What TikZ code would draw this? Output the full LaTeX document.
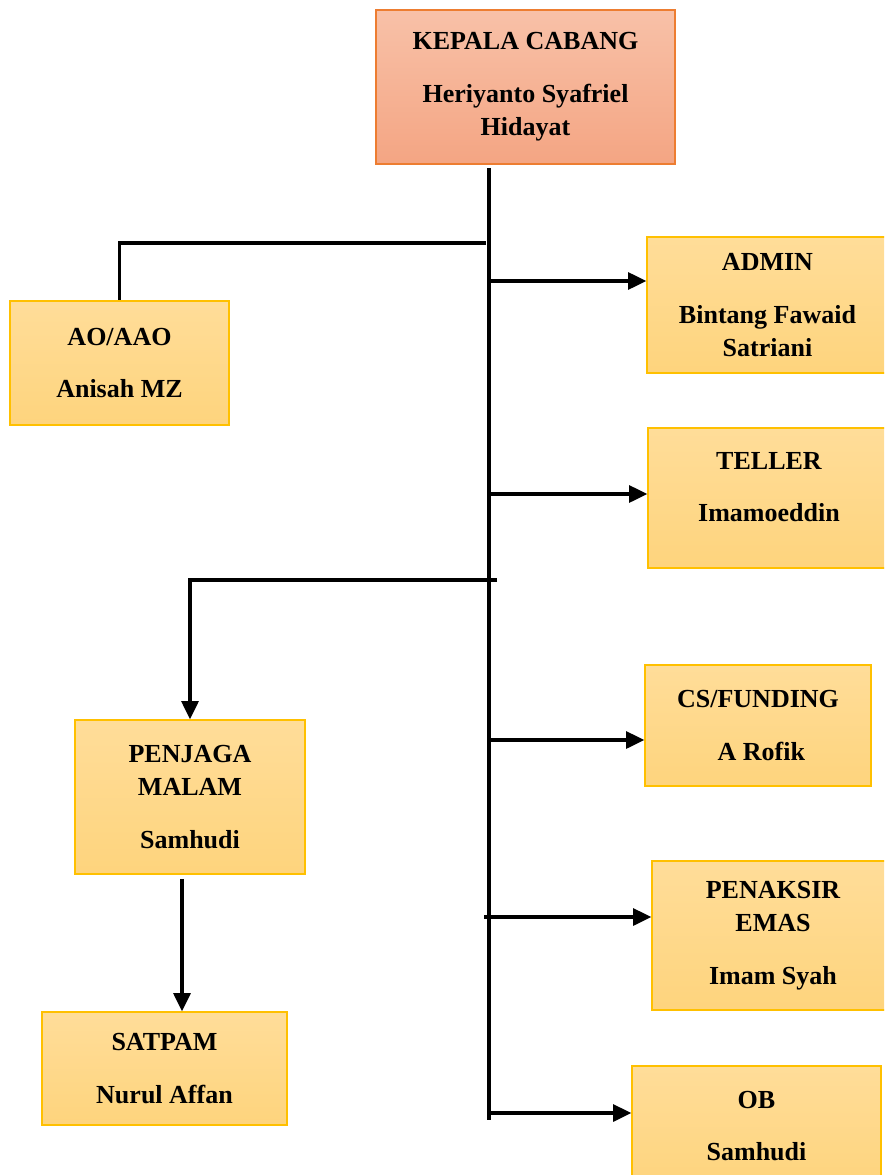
\documentclass[tikz,border=0pt]{standalone}
\usepackage{fontspec}
\setmainfont{Liberation Serif}
\usepackage{tikz}
\usetikzlibrary{arrows.meta}
\definecolor{headtop}{RGB}{248,193,168}
\definecolor{headbot}{RGB}{244,165,131}
\definecolor{headline}{RGB}{237,125,49}
\definecolor{stafftop}{RGB}{255,221,153}
\definecolor{staffbot}{RGB}{254,212,125}
\definecolor{staffline}{RGB}{255,192,0}
\tikzstyle{head} = [rectangle, align=center, draw=headline, line width=0.8pt, top color=headtop, bottom color=headbot, font=\bfseries\fontsize{18.5}{23.5}\selectfont]
\tikzstyle{staff} = [rectangle, align=center, draw=staffline, line width=0.8pt, top color=stafftop, bottom color=staffbot, font=\bfseries\fontsize{18.5}{23.5}\selectfont]

\begin{document}
\begin{tikzpicture}[x=0.025cm,y=-0.025cm]
        \tikzset{myarrow/.style={line width=2.7pt, -{Triangle[length=0.46cm,width=0.42cm]}},
                 myline/.style={line width=2.7pt}}
        \useasboundingbox (0,0) rectangle (884,1175);
        \clip (0,0) rectangle (884,1175);

        \node (kepala) [head, minimum width=7.475cm, minimum height=3.85cm] at (525.5,87) {KEPALA CABANG\\[14pt] Heriyanto Syafriel\\ Hidayat};
        \node (ao) [staff, minimum width=5.475cm, minimum height=3.1cm] at (119.5,363) {AO/AAO\\[14pt] Anisah MZ};
        \node (admin) [staff, minimum width=6.025cm, minimum height=3.4cm] at (767.5,305) {ADMIN\\[14pt] Bintang Fawaid\\ Satriani};
        \node (teller) [staff, minimum width=6.05cm, minimum height=3.5cm] at (769,498) {TELLER\\[14pt] Imamoeddin\\[-8pt]};
        \node (penjaga) [staff, minimum width=5.75cm, minimum height=3.85cm] at (190,797) {PENJAGA\\ MALAM\\[14pt] Samhudi};
        \node (satpam) [staff, minimum width=6.125cm, minimum height=2.825cm] at (164.5,1068.5) {SATPAM\\[14pt] Nurul Affan};
        \node (cs) [staff, minimum width=5.65cm, minimum height=3.025cm] at (758,725.5) {CS/FUNDING\\[14pt] \ A Rofik};
        \node (penaksir) [staff, minimum width=6.05cm, minimum height=3.725cm] at (773,935.5) {PENAKSIR\\ EMAS\\[14pt] Imam Syah};
        \node (ob) [staff, minimum width=6.225cm, minimum height=3cm] at (756.5,1126) {OB\\[14pt] Samhudi};

        \coordinate (trunkTop) at (489,168);
        \coordinate (trunkEnd) at (489,1120);
        \coordinate (toAo) at (486,243);
        \coordinate (toAdmin) at (489,281);
        \coordinate (toTeller) at (489,494);
        \coordinate (toPenjaga) at (497,580);
        \coordinate (toCs) at (489,740);
        \coordinate (toPenaksir) at (484,917);
        \coordinate (toOb) at (489,1113);
        \coordinate (downLine) at (182,0);

        \draw [myline] (trunkTop) -- (trunkEnd);
        \draw [myline] (toAo) -| (ao.north);
        \draw [myarrow] (toAdmin) -- (toAdmin -| admin.west);
        \draw [myarrow] (toTeller) -- (toTeller -| teller.west);
        \draw [myarrow] (toPenjaga) -| (penjaga.north);
        \draw [myarrow] (toCs) -- (toCs -| cs.west);
        \draw [myarrow] (toPenaksir) -- (toPenaksir -| penaksir.west);
        \draw [myarrow] (toOb) -- (toOb -| ob.west);
        \draw [myarrow] ([yshift=-3pt]penjaga.south -| downLine) -- (satpam.north -| downLine);
    \end{tikzpicture}
\end{document}
